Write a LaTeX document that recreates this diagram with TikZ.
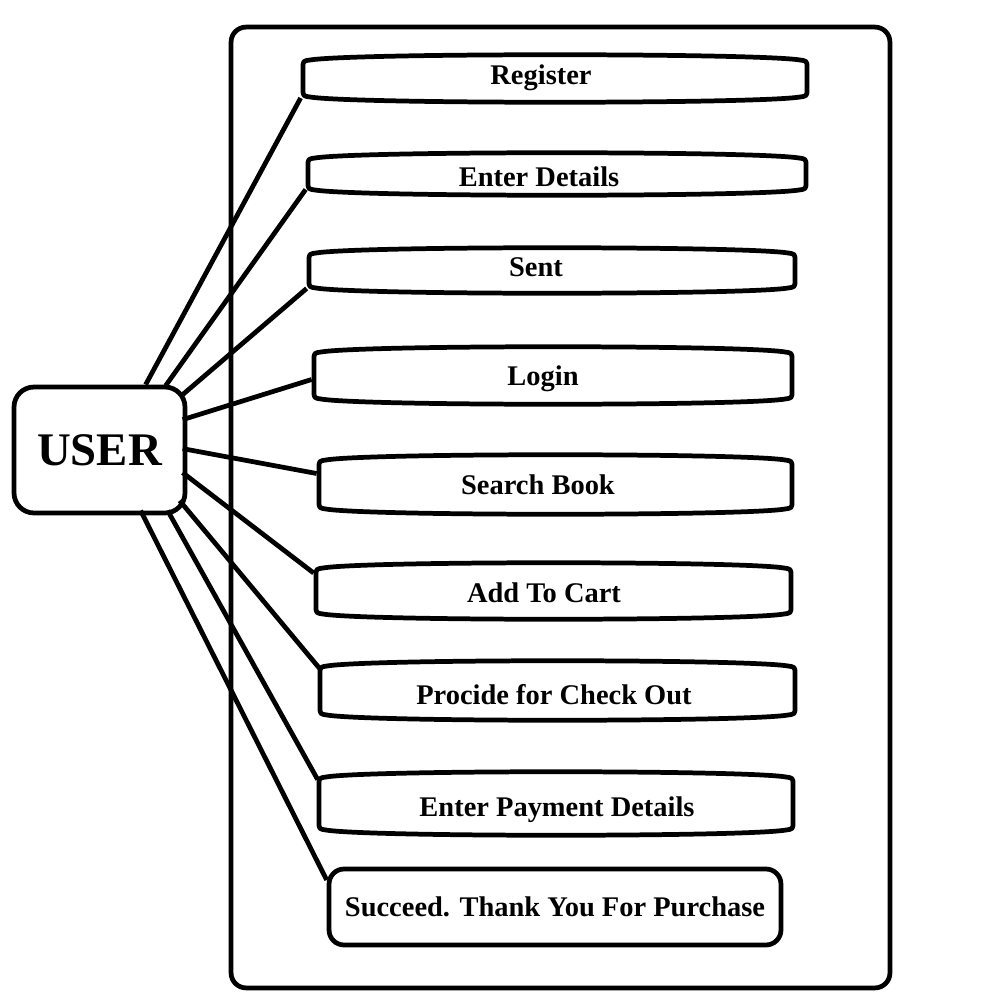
\documentclass[tikz,border=0pt]{standalone}
\usepackage{fontspec}
\setmainfont{Liberation Serif}
\usetikzlibrary{calc}
\begin{document}
\begin{tikzpicture}[x=0.02cm,y=-0.02cm,line width=2.7pt,line join=round,
  lbl/.style={font=\fontsize{16.2}{18}\selectfont\bfseries,inner sep=0pt,text height=13pt,text depth=2.6pt},
  conn/.style={line width=2.7pt}]
\useasboundingbox (0,0) rectangle (1000,1000);
% system boundary
\node[draw,rounded corners=0.3cm,minimum width=13.18cm,minimum height=19.22cm,inner sep=0pt] (sys) at (560.5,507.5) {};
% use case shape macro: name x1 y1 x2 y2 tx ty text
\newcommand\ucase[8]{%
  \draw (#2,#3+14) .. controls (#2,#3+7) .. (#2+7,#3+6)
    .. controls ({#2+0.1*(#4-#2)},#3-1) and ({#4-0.1*(#4-#2)},#3-1) .. (#4-7,#3+6)
    .. controls (#4,#3+7) .. (#4,#3+14)
    -- (#4,#5-14) .. controls (#4,#5-7) .. (#4-7,#5-6)
    .. controls ({#4-0.1*(#4-#2)},#5+1) and ({#2+0.1*(#4-#2)},#5+1) .. (#2+7,#5-6)
    .. controls (#2,#5-7) .. (#2,#5-14) -- cycle;
  \node[inner sep=0pt,minimum width={(#4-#2)*0.02cm},minimum height={(#5-#3)*0.02cm}] (#1) at ({(#2+#4)/2},{(#3+#5)/2}) {};
  \node[lbl] (#1-t) at (#6,#7) {#8};%
}
\ucase{reg}{303}{54}{807}{103}{541}{75}{Register}
\ucase{det}{308}{152}{806}{196}{539}{177}{Enter Details}
\ucase{sent}{309}{247}{795}{294}{536}{267}{Sent}
\ucase{login}{314}{346}{792}{405}{543}{376}{Login}
\ucase{search}{319}{454}{792}{515}{538}{485}{Search Book}
\ucase{cart}{316}{562}{791}{620}{544}{593}{Add To Cart}
\ucase{check}{320}{660}{795}{721}{554}{695}{Procide for Check Out}
\ucase{pay}{319}{771}{793}{836}{557}{807}{Enter Payment Details}
\node[draw,rounded corners=0.3cm,minimum width=9.04cm,minimum height=1.52cm,inner sep=0pt,lbl] (succ) at (555,907) {Succeed. Thank You For Purchase};
% actor box
\node[draw,rounded corners=0.4cm,minimum width=3.42cm,minimum height=2.52cm,inner sep=0pt,
  font=\fontsize{26.6}{30}\selectfont\bfseries] (user) at (99.5,450) {USER};
% connectors
\draw[conn] ($(user.north west)+(134,0)$) -- ($(reg.west)+(0,19.5)$);
\draw[conn] ($(user.north west)+(154,1)$) -- ($(det.west)+(0,15.5)$);
\draw[conn] ($(user.north west)+(171,10)$) -- ($(sent.west)+(0,18)$);
\draw[conn] ($(user.north west)+(171,35)$) -- ($(login.west)+(0,4)$);
\draw[conn] ($(user.north west)+(171,64)$) -- ($(search.west)+(0,-11)$);
\draw[conn] ($(user.north west)+(171,88)$) -- ($(cart.west)+(0,-18)$);
\draw[conn] ($(user.north west)+(168,116)$) -- ($(check.west)+(2,-22)$);
\draw[conn] ($(user.north west)+(156,126)$) -- ($(pay.west)+(1,-24)$);
\draw[conn] ($(user.north west)+(129,126)$) -- ($(succ.west)+(0,-27)$);
\end{tikzpicture}
\end{document}
